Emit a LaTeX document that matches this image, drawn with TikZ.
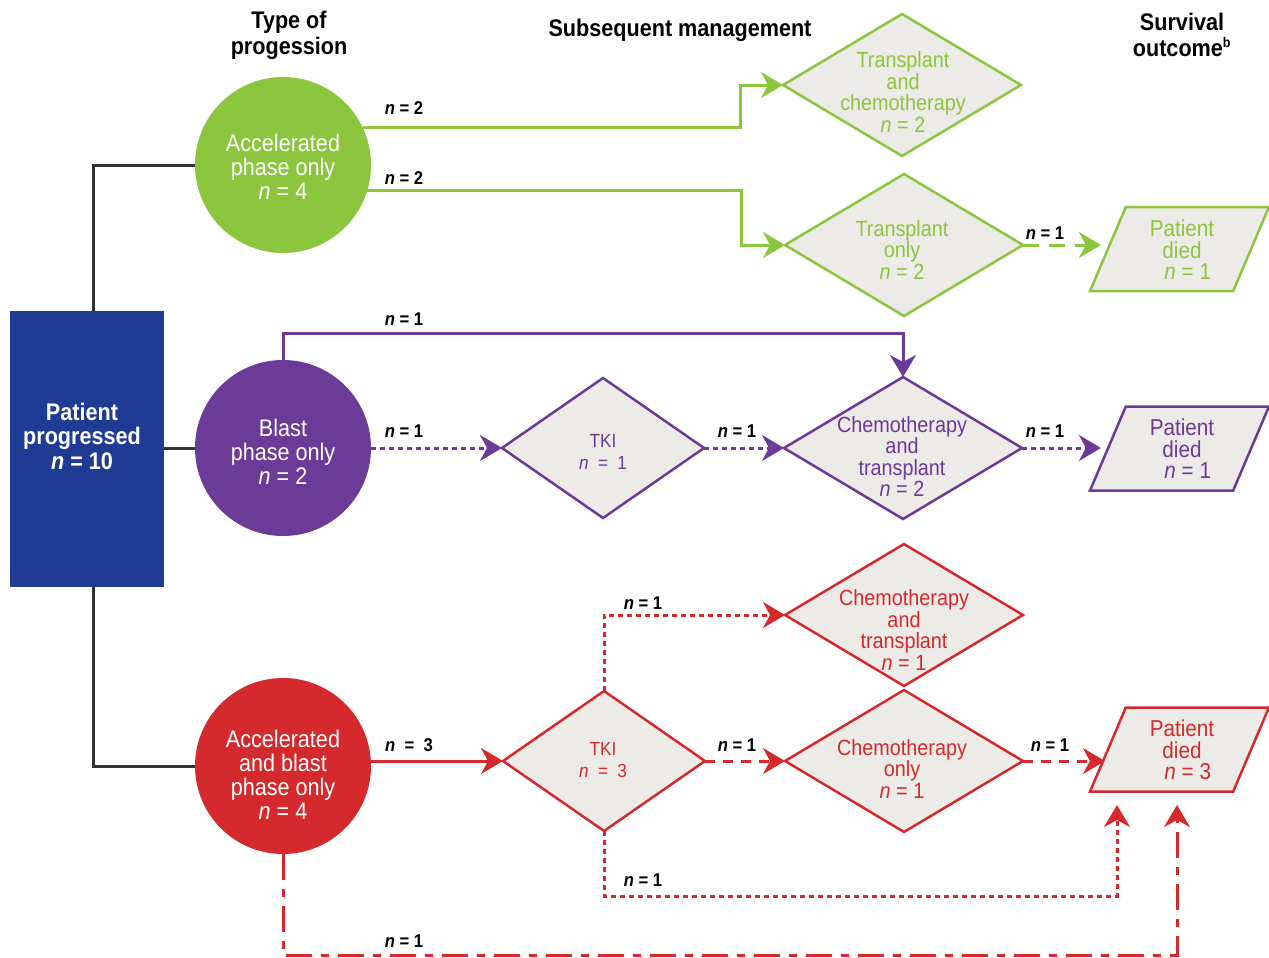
\documentclass[tikz,border=0pt]{standalone}
\usepackage{fontspec}
\setmainfont{Liberation Sans}[FakeStretch=0.9]
\usetikzlibrary{shapes.geometric,arrows.meta}
\definecolor{cg}{HTML}{8CC63E}
\definecolor{cp}{HTML}{6C3A97}
\definecolor{cr}{HTML}{D42A2E}
\definecolor{cb}{HTML}{1F3B94}
\definecolor{cfill}{HTML}{EDEBE7}
\definecolor{ck}{HTML}{333333}
\tikzset{
 every node/.style={inner sep=0pt, outer sep=0pt},
 circ/.style={circle, minimum size=176pt, fill=#1},
 ctxt/.style={text=white, align=center, font=\fontsize{24}{24}\selectfont},
 dia/.style={diamond, draw=#1, line width=2.5pt, fill=cfill, minimum width=238pt, minimum height=142pt},
 tkidia/.style={diamond, draw=#1, line width=2.5pt, fill=cfill, minimum width=202pt, minimum height=140pt},
 dtxt/.style={text=#1, align=center, font=\fontsize{22}{21.5}\selectfont},
 ttxt/.style={text=#1, align=center, font=\fontsize{19}{22}\selectfont},
 died/.style={trapezium, inner sep=3pt, trapezium left angle=71.6, trapezium right angle=108.4, trapezium stretches=true, draw=#1, fill=cfill, line width=2.5pt, minimum width=179pt, minimum height=84pt},
 ptxt/.style={text=#1, align=center, font=\fontsize{23}{21.5}\selectfont},
 lab/.style={font=\fontsize{18.5}{18}\selectfont\bfseries},
 head/.style={align=center, font=\fontsize{24}{26}\selectfont\bfseries},
 conn/.style={line width=3pt, draw=#1},
 arr/.style={-{Stealth[length=22pt,width=26pt,inset=7pt]}},
 dotl/.style={dash pattern=on 5pt off 4pt},
 dashl/.style={dash pattern=on 10pt off 8pt},
 gdashl/.style={dash pattern=on 16pt off 10pt},
 dashdotl/.style={dash pattern=on 26pt off 9pt on 8pt off 9pt},
}
\newcommand{\nn}[1]{\textit{n} = #1}
\begin{document}
\begin{tikzpicture}[x=1pt,y=-1pt]
\useasboundingbox (0,0) rectangle (1269,958);

% headers
\node[head] (h1) at (289,35) {Type of\\progession};
\node[head] (h2) at (680,30) {Subsequent management};
\node[head] (h3) at (1182,35) {Survival\\outcome\textsuperscript{\fontsize{14}{14}\selectfont b}};

% patient box
\node[fill=cb, minimum width=154pt, minimum height=276pt] (pt) at (87,449) {};
\node[text=white, align=center, font=\fontsize{24}{24.5}\selectfont\bfseries] (ptt) at (82,436) {Patient\\progressed\\\textit{n} = 10};

% circles
\node[circ=cg] (gc) at (283,165) {};
\node[circ=cp] (pc) at (283,448) {};
\node[circ=cr] (rc) at (283,766) {};
\node[ctxt] (gct) at (283,167) {Accelerated\\phase only\\\nn{4}};
\node[ctxt] (pct) at (283,452) {Blast\\phase only\\\nn{2}};
\node[ctxt] (rct) at (283,775) {Accelerated\\and blast\\phase only\\\nn{4}};

% tree lines
\draw[conn=ck] ([xshift=6pt]pt.north) |- (gc.west);
\draw[conn=ck] (pc.west -| pt.east) -- (pc.west);
\draw[conn=ck] ([xshift=6pt]pt.south) |- (rc.west);

% green branch
\node[dia=cg] (gd1) at (902,85) {};
\node[dtxt=cg] (gd1t) at (903,92) {Transplant\\and\\chemotherapy\\\nn{2}};
\node[dia=cg] (gd2) at (904,245) {};
\node[dtxt=cg] (gd2t) at (902,250) {Transplant\\only\\\nn{2}};
\node[died=cg] (gp) at (1179.5,249) {};
\node[ptxt=cg] (gpt) at (1182,250) {Patient\\died\\\ \ \nn{1}};

\draw[conn=cg, arr] (gc.25.6) -| ([xshift=-43pt]gd1.west) -- (gd1.west);
\draw[conn=cg, arr] (gc.-17.2) -| ([xshift=-44pt]gd2.west) -- (gd2.west);
\draw[conn=cg, gdashl, arr] (gd2.east) -- ([xshift=-7pt]gd2.east -| gp.west);
\node[lab] (l1) at (404,108) {\nn{2}};
\node[lab] (l2) at (404,178) {\nn{2}};
\node[lab] (l3) at (1045,233) {\nn{1}};

% purple branch
\node[tkidia=cp] (pt1) at (603,448) {};
\node[ttxt=cp] (pt1t) at (603,452) {TKI\\\textit{n}\ \ =\ \ 1};
\node[dia=cp] (pd2) at (903,448) {};
\node[dtxt=cp] (pd2t) at (902,456.5) {Chemotherapy\\and\\transplant\\\nn{2}};
\node[died=cp] (pp) at (1179.5,448.5) {};
\node[ptxt=cp] (ppt) at (1182,449) {Patient\\died\\\ \ \nn{1}};

\draw[conn=cp, arr] (pc.north) |- ([yshift=44pt]pd2.north) -- (pd2.north);
\draw[conn=cp, dotl, arr] (pc.east) -- (pt1.west);
\draw[conn=cp, dotl, arr] (pt1.east) -- (pd2.west);
\draw[conn=cp, dotl, arr] (pd2.east) -- ([xshift=-7pt]pd2.east -| pp.west);
\node[lab] (l4) at (404,319) {\nn{1}};
\node[lab] (l5) at (404,431) {\nn{1}};
\node[lab] (l6) at (737,431) {\nn{1}};
\node[lab] (l7) at (1045,431) {\nn{1}};

% red branch
\node[tkidia=cr] (rt) at (604,761) {};
\node[ttxt=cr] (rtt) at (603,760) {TKI\\\textit{n}\ \ =\ \ 3};
\node[dia=cr] (rd1) at (904,615) {};
\node[dtxt=cr] (rd1t) at (904,630) {Chemotherapy\\and\\transplant\\\nn{1}};
\node[dia=cr] (rd2) at (904,761) {};
\node[dtxt=cr] (rd2t) at (902,769) {Chemotherapy\\only\\\nn{1}};
\node[died=cr] (rp) at (1179.5,749.5) {};
\node[ptxt=cr] (rpt) at (1182,750) {Patient\\died\\\ \ \nn{3}};
\coordinate (e1) at (1117,805);
\coordinate (e2) at (1177,805);

\draw[conn=cr, arr] (rt.west -| rc.east) -- (rt.west);
\draw[conn=cr, dotl, arr] (rt.north) |- (rd1.west);
\draw[conn=cr, dashl, arr] (rt.east) -- (rd2.west);
\draw[conn=cr, dashl, arr] (rd2.east) -- ([xshift=-3pt]rd2.east -| rp.west);
\draw[conn=cr, dotl, arr] (rt.south) |- ([yshift=-91pt]e1) -- (e1);
\draw[conn=cr, dashdotl, arr] (rc.south) |- ([yshift=-150pt]e2) -- (e2);
\node[lab] (l8) at (409,745) {\textit{n}\ \ =\ \ 3};
\node[lab] (l9) at (643,603) {\nn{1}};
\node[lab] (l10) at (737,745) {\nn{1}};
\node[lab] (l11) at (1050,745) {\nn{1}};
\node[lab] (l12) at (643,880) {\nn{1}};
\node[lab] (l13) at (404,941) {\nn{1}};
\end{tikzpicture}
\end{document}
